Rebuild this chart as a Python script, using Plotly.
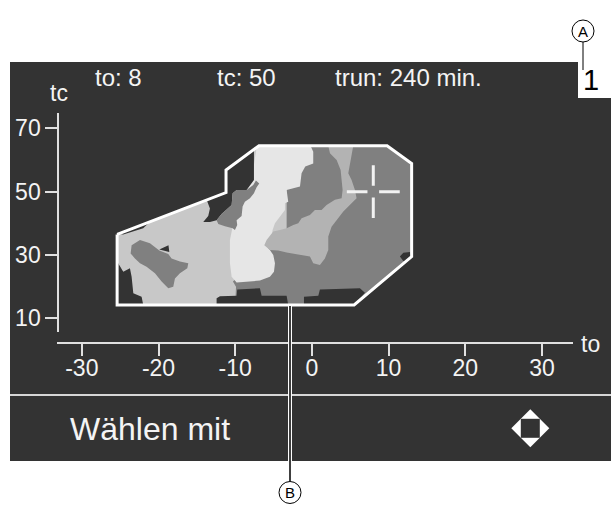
import plotly.graph_objects as go

W, H = 611, 505
FONT = "Liberation Sans, Arial, sans-serif"

# Current operating point and runtime shown in the header
TO_CUR = 8
TC_CUR = 50
TRUN_MIN = 240

# Axes
X_TICKS = [-30, -20, -10, 0, 10, 20, 30]
Y_TICKS = [10, 30, 50, 70]
X_RANGE = [-33.2, 34.0]
Y_RANGE = [5.77, 74.83]

# Permitted operating range (to, tc)
RANGE_TO = [-25.4, -11.2, -11.2, -6.9, 9.8, 13.0, 13.0, 5.5, -25.4, -25.4]
RANGE_TC = [36.5, 49.7, 56.8, 64.5, 64.5, 58.9, 29.5, 14.2, 14.2, 36.5]

# Medium-gray zone (right part and lower middle)
MID_TO = [-3.3, 9.8, 13.0, 13.0, 5.5, -10.0, -9.9, -10.3, -3.3]
MID_TC = [64.5, 64.5, 58.9, 29.5, 14.2, 14.2, 20.0, 21.6, 37.9]

# Very light central zone
STRIP_TO = [-7.2, -0.17, 0.17, 0.17, -0.87, -1.35, -1.56, -3.3, -3.09, -3.52,
            -3.52, -4.17, -4.82, -5.13, -5.26, -6.04, -5.48, -5.04, -4.82, -4.95,
            -5.48, -6.78, -8.52, -9.82, -10.47, -10.69, -10.69, -10.34, -9.82, -9.17,
            -8.52, -7.87]
STRIP_TC = [64.2, 64.4, 62.6, 58.9, 57.9, 55.8, 51.6, 50.5, 46.8, 46.3,
            44.2, 42.1, 40.0, 37.9, 35.8, 33.1, 31.6, 30.0, 27.4, 24.7,
            23.1, 21.9, 21.6, 21.3, 23.1, 27.4, 34.7, 38.9, 42.1, 46.3,
            50.5, 53.7]

# Light band between the medium zones
BAND_TO = [2.13, 2.35, 3.22, 3.74, 3.87, 4.0, 3.87, 3.0, 1.91, 1.26,
           0.39, -0.26, -1.35, -1.78, -2.43, -3.3, -4.17, -5.04, -5.91, -6.21,
           -5.48, -4.39, -3.3, -1.35, -0.26, 0.17, 1.04, 1.69, 2.13, 2.13,
           2.56, 4.09, 5.82, 5.61, 5.17, 4.74, 5.04, 5.39]
BAND_TC = [64.5, 62.1, 60.0, 56.8, 53.7, 50.5, 47.9, 47.4, 45.8, 44.2,
           44.2, 42.6, 41.6, 40.0, 39.5, 38.4, 37.9, 37.4, 34.7, 33.1,
           31.6, 31.4, 30.8, 30.0, 29.5, 27.4, 26.8, 28.9, 31.6, 35.8,
           38.9, 43.7, 47.9, 50.5, 53.7, 55.8, 60.0, 64.5]

# Medium-gray tongue left of the light zone
TONGUE_TO = [-7.65, -8.52, -9.82, -10.34, -10.47, -11.78, -12.43, -12.21, -11.34, -10.34,
             -10.04, -9.74, -9.82, -9.17, -9.04, -8.74, -8.08, -7.56, -7.21, -6.87, -7.3]
TONGUE_TC = [52.1, 50.5, 50.5, 49.5, 45.8, 42.9, 41.0, 39.8, 39.1, 38.4,
             37.9, 39.5, 41.0, 42.3, 45.3, 46.8, 47.9, 49.5, 51.4, 52.6, 53.5]

# Medium-gray island in the left zone
BLOB_TO = [-23.51, -22.42, -21.12, -19.9, -18.73, -18.3, -17.21, -16.12, -16.25, -17.21,
           -17.86, -18.08, -18.73, -19.6, -20.47, -21.56, -22.42, -23.08, -23.64]
BLOB_TC = [33.1, 34.7, 33.7, 31.4, 30.3, 28.9, 27.9, 27.4, 25.8, 24.2,
           22.6, 20.0, 19.5, 21.6, 24.2, 26.3, 27.4, 28.9, 30.5]

# Dark (blocked) patches
DARK_UL_TO = [-13.73, -11.21, -11.21, -7.56, -7.56, -8.52, -9.82, -10.34, -10.47, -11.78,
              -12.43, -13.3, -14.17, -13.52, -13.3]
DARK_UL_TC = [47.4, 49.7, 56.8, 63.4, 53.7, 50.5, 50.5, 49.5, 45.8, 42.9,
              41.0, 40.4, 40.4, 42.3, 44.7]
DARK_EDGE_TO = [-25.3, -21.1, -22.0, -23.3, -24.6]
DARK_EDGE_TC = [36.6, 40.5, 38.4, 37.4, 36.5]
DARK_LEFT_TO = [-25.4, -24.6, -23.73, -23.51, -23.29, -22.21, -21.99, -25.4]
DARK_LEFT_TC = [27.9, 24.7, 25.8, 23.1, 17.9, 16.8, 14.2, 14.2]
DARK_TRI_TO = [-19.9, -18.7, -18.6]
DARK_TRI_TC = [31.7, 33.1, 30.9]
DARK_LOW1_TO = [-12.43, -12.43, -11.99, -9.82, -9.74, -6.78, -6.56, -3.3, -3.09]
DARK_LOW1_TC = [14.2, 16.3, 17.0, 17.1, 19.1, 19.5, 17.1, 17.1, 14.2]
DARK_LOW2_TO = [-1.04, -1.04, 0.83, 1.04, 6.26, 6.91, 5.48]
DARK_LOW2_TC = [14.2, 16.8, 17.1, 19.1, 19.5, 18.1, 14.2]
DARK_SPOT_TO = [11.47, 11.91, 12.78, 13.0, 12.56, 11.91]
DARK_SPOT_TC = [29.5, 30.7, 30.9, 29.5, 28.2, 28.1]

BG = "#333333"
C_LIGHT = "#c8c8c8"
C_MID = "#808080"
C_BAND = "#b3b3b3"
C_STRIP = "#e6e6e6"
AX = "#e0e0e0"
TXT = "#f4f4f4"


def fx(px):
    return px / W


def fy(py):
    return 1 - py / H


def zone(xs, ys, color):
    return go.Scatter(x=xs, y=ys, fill="toself", fillcolor=color, mode="lines",
                      line=dict(width=0, color=color), hoverinfo="skip", showlegend=False)


fig = go.Figure()
fig.add_trace(zone(RANGE_TO, RANGE_TC, C_LIGHT))
fig.add_trace(zone(MID_TO, MID_TC, C_MID))
fig.add_trace(zone(STRIP_TO, STRIP_TC, C_STRIP))
fig.add_trace(zone(BAND_TO, BAND_TC, C_BAND))
fig.add_trace(zone(DARK_UL_TO, DARK_UL_TC, BG))
fig.add_trace(zone(TONGUE_TO, TONGUE_TC, C_MID))
fig.add_trace(zone(BLOB_TO, BLOB_TC, C_MID))
for xs, ys in [(DARK_EDGE_TO, DARK_EDGE_TC), (DARK_LEFT_TO, DARK_LEFT_TC),
               (DARK_TRI_TO, DARK_TRI_TC), (DARK_LOW1_TO, DARK_LOW1_TC),
               (DARK_LOW2_TO, DARK_LOW2_TC), (DARK_SPOT_TO, DARK_SPOT_TC)]:
    fig.add_trace(zone(xs, ys, BG))

# outline of the operating range
fig.add_trace(go.Scatter(x=RANGE_TO, y=RANGE_TC, mode="lines",
                         line=dict(color="white", width=3), hoverinfo="skip", showlegend=False))

# crosshair at the current operating point
gx_in, gx_out = 0.76, 3.45
gy_in, gy_out = 1.83, 8.3
cx = [TO_CUR - gx_out, TO_CUR - gx_in, None, TO_CUR + gx_in, TO_CUR + gx_out, None,
      TO_CUR, TO_CUR, None, TO_CUR, TO_CUR]
cy = [TC_CUR, TC_CUR, None, TC_CUR, TC_CUR, None,
      TC_CUR + gy_in, TC_CUR + gy_out, None, TC_CUR - gy_in, TC_CUR - gy_out]
fig.add_trace(go.Scatter(x=cx, y=cy, mode="lines", line=dict(color="#f2f2f2", width=3),
                         hoverinfo="skip", showlegend=False))

shapes = [
    # display panel
    dict(type="rect", xref="paper", yref="paper", x0=fx(10), x1=1, y0=fy(461), y1=fy(62),
         fillcolor=BG, line=dict(width=0), layer="below"),
    # white page tab in the corner
    dict(type="rect", xref="paper", yref="paper", x0=fx(578), x1=1, y0=fy(98), y1=fy(62),
         fillcolor="white", line=dict(width=0), layer="below"),
    # separator above the footer
    dict(type="line", xref="paper", yref="paper", x0=fx(10), x1=1, y0=fy(395), y1=fy(395),
         line=dict(color="#d6d6d6", width=2), layer="below"),
    # callout B
    dict(type="line", xref="paper", yref="paper", x0=fx(290), x1=fx(290), y0=fy(306), y1=fy(461),
         line=dict(color="white", width=4)),
    dict(type="line", xref="paper", yref="paper", x0=fx(290), x1=fx(290), y0=fy(306), y1=fy(481),
         line=dict(color="black", width=1.5)),
    dict(type="circle", xref="paper", yref="paper", x0=fx(279), x1=fx(301), y0=fy(503.5), y1=fy(481.5),
         line=dict(color="black", width=1)),
    # callout A
    dict(type="circle", xref="paper", yref="paper", x0=fx(572), x1=fx(594), y0=fy(42), y1=fy(20),
         line=dict(color="black", width=1)),
    dict(type="line", xref="paper", yref="paper", x0=fx(583), x1=fx(583), y0=fy(42), y1=fy(70),
         line=dict(color="black", width=1)),
]

# navigation symbol: white diamond with a dark square inside
dcx, dcy, dr, sq = 530.3, 428.3, 19, 9.5
diamond = "M {},{} L {},{} L {},{} L {},{} Z".format(
    fx(dcx), fy(dcy - dr), fx(dcx + dr), fy(dcy), fx(dcx), fy(dcy + dr), fx(dcx - dr), fy(dcy))
shapes.append(dict(type="path", xref="paper", yref="paper", path=diamond,
                   fillcolor="white", line=dict(width=0)))
shapes.append(dict(type="rect", xref="paper", yref="paper", x0=fx(dcx - sq), x1=fx(dcx + sq),
                   y0=fy(dcy + sq), y1=fy(dcy - sq), fillcolor=BG, line=dict(width=0)))


def label(text, x, y, size, color=TXT, xanchor="left"):
    return dict(text=text, x=fx(x), y=fy(y), xref="paper", yref="paper", showarrow=False,
                xanchor=xanchor, yanchor="middle", font=dict(family=FONT, size=size, color=color))


annotations = [
    label(f"to: {TO_CUR}", 93, 77, 24),
    label(f"tc: {TC_CUR}", 215, 77, 24),
    label(f"trun: {TRUN_MIN} min.", 333, 77, 24),
    label("tc", 59, 93, 23, xanchor="center"),
    label("to", 579, 344, 23),
    label("Wählen mit", 68, 429, 32),
    label("1", 591, 80, 29, color="black", xanchor="center"),
    label("A", 583, 31, 15, color="black", xanchor="center"),
    label("B", 290, 492.5, 15, color="black", xanchor="center"),
]

axis_common = dict(showgrid=False, zeroline=False, showline=True, linecolor=AX, linewidth=2,
                   ticks="outside", ticklen=12, tickwidth=2, tickcolor=AX,
                   tickfont=dict(family=FONT, size=23, color=TXT), fixedrange=True)

fig.update_layout(
    width=W, height=H, autosize=False,
    margin=dict(l=0, r=0, t=0, b=0),
    paper_bgcolor="white", plot_bgcolor="rgba(0,0,0,0)",
    showlegend=False,
    xaxis=dict(range=X_RANGE, domain=[fx(57.3), fx(572.7)], anchor="free", position=fy(343.3),
               tickvals=X_TICKS, ticktext=[str(v) for v in X_TICKS], ticklabelstandoff=-8,
               **axis_common),
    yaxis=dict(range=Y_RANGE, domain=[fy(331.7), fy(113)], anchor="free", position=fx(58.3),
               tickvals=Y_TICKS, ticktext=[str(v) for v in Y_TICKS], **axis_common),
    shapes=shapes,
    annotations=annotations,
)

fig.write_html("out.html")
